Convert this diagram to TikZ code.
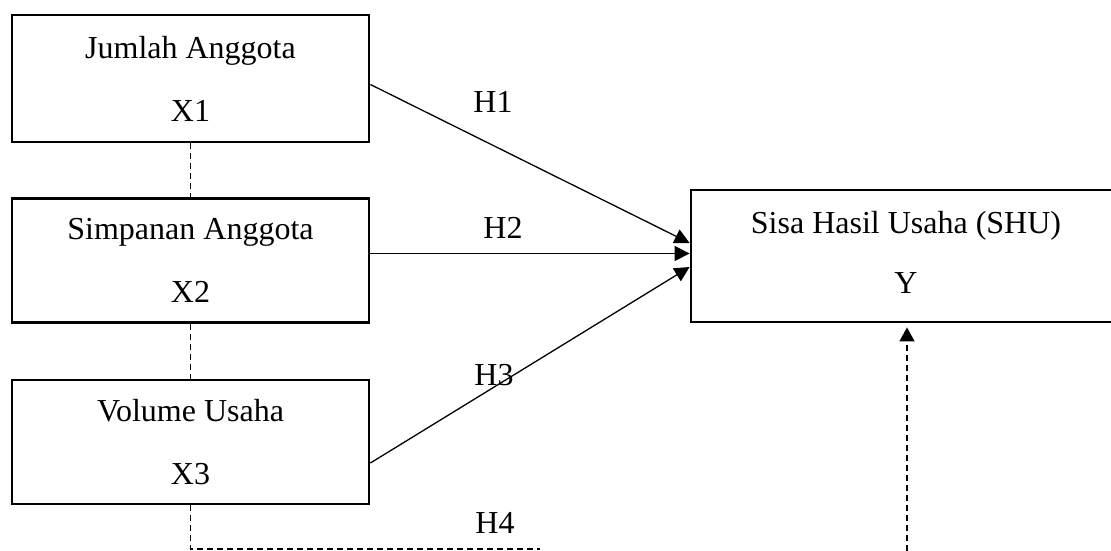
\documentclass[tikz,border=0pt]{standalone}
\usepackage{fontspec}
\setmainfont{Liberation Serif}
\usepackage{tikz}
\usetikzlibrary{arrows.meta}
\usetikzlibrary{positioning}

\tikzset{
  varbox/.style={draw, line width=2.8pt, rectangle, align=center, inner sep=0pt,
                 minimum width=357pt, minimum height=124pt,
                 font=\fontsize{32}{38}\selectfont},
  hlabel/.style={font=\fontsize{32}{38}\selectfont, inner sep=0pt},
  hyp/.style={line width=1.3pt, -{Triangle[length=15pt,width=15pt]}},
  link/.style={line width=1.5pt, dash pattern=on 6pt off 4pt}
}

\begin{document}
\begin{tikzpicture}[x=1pt,y=-1pt]
\useasboundingbox [fill=white] (0,0) rectangle (1111,551);
\clip (0,0) rectangle (1111,551);

% variabel bebas
\node [varbox, minimum height=127pt] (x1) at (190.5,78.5) {Jumlah Anggota\\[25pt]X1};
\node [varbox] (x2) at (190.5,260.5) {Simpanan Anggota\\[25pt]X2};
\node [varbox] (x3) at (190.5,442) {Volume Usaha\\[25pt]X3};

% variabel terikat
\node [varbox, minimum width=450pt, minimum height=132pt] (shu) at (916,256) {};
\node [font=\fontsize{32}{38}\selectfont, align=center, inner sep=0pt] (shutext) at (906,252) {Sisa Hasil Usaha (SHU)\\[22pt]Y};

% hubungan antar variabel bebas
\draw [link] (x1.south) -- (x2.north);
\draw [link] (x2.south) -- (x3.north);

% hipotesis
\coordinate (h2s) at ([yshift=7pt]x2.east);
\draw [hyp] ([yshift=-6pt]x1.east) -- ([yshift=13pt]shu.west);
\draw [hyp] (h2s) -- (h2s -| shu.west);
\draw [hyp] ([yshift=-21pt]x3.east) -- ([yshift=-11pt]shu.west);

\coordinate (h4a) at (540,549);
\coordinate (h4b) at (907,551);
\draw [link] (x3.south) |- (h4a);
\draw [link, -{Triangle[length=14pt,width=15pt]}, shorten >=4pt] (h4b) -- (h4b |- shu.south);

\node [hlabel] (lh1) at (493,102) {H1};
\node [hlabel] (lh2) at (503,228) {H2};
\node [hlabel] (lh3) at (494,375) {H3};
\node [hlabel] (lh4) at (495,523) {H4};
\end{tikzpicture}
\end{document}
